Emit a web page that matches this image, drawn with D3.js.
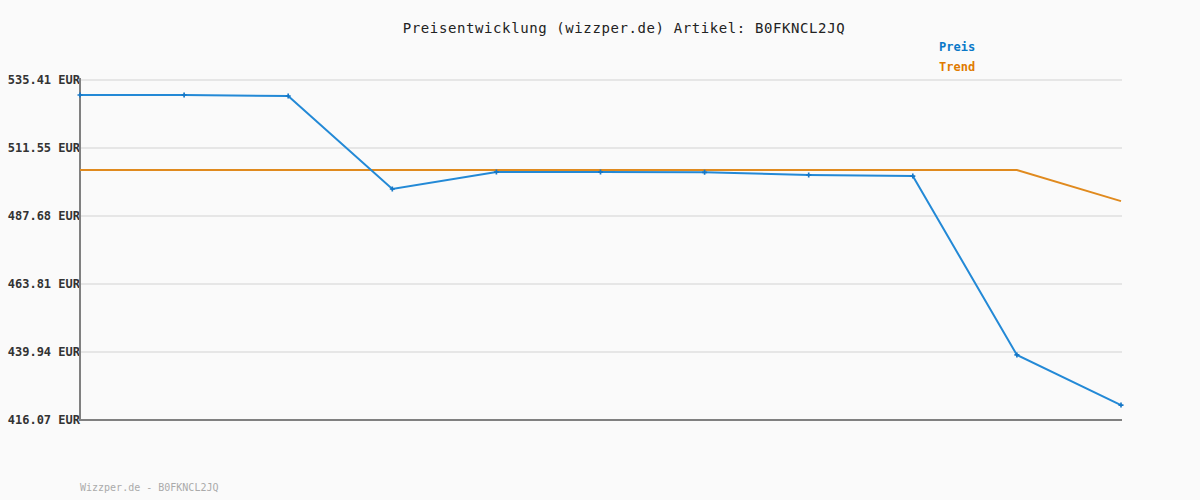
<!DOCTYPE html>
<html>
<head>
<meta charset="utf-8">
<script src="https://cdn.jsdelivr.net/npm/d3@7"></script>
<style>
    body { margin: 0; background: #fafafa; }
    svg { display: block; }
</style>
</head>
<body>
<div id="chart"></div>
<script>
    const width = 1200, height = 500;
    const margin = {top: 80, right: 79, bottom: 80, left: 80};

    const points = [0, 1, 2, 3, 4, 5, 6, 7, 8, 9, 10];
    const preis = [530.15, 530.15, 529.8, 497.15, 503.1, 503.1, 503.0, 502.07, 501.7, 438.9, 421.3];
    const trend = [503.8, 503.8, 503.8, 503.8, 503.8, 503.8, 503.8, 503.8, 503.8, 503.8, 492.9];
    const yTicks = [416.07, 439.94, 463.81, 487.68, 511.55, 535.41];

    const font = '"DejaVu Sans Mono", monospace';

    const svg = d3.select('#chart').append('svg')
        .attr('width', width)
        .attr('height', height);

    svg.append('rect').attr('width', width).attr('height', height).attr('fill', '#fafafa');

    const x = d3.scaleLinear()
        .domain([0, points.length - 1])
        .range([margin.left, width - margin.right]);

    const y = d3.scaleLinear()
        .domain([416.07, 535.41])
        .range([height - margin.bottom, margin.top]);

    // grid
    svg.append('g')
        .selectAll('line')
        .data(yTicks)
        .enter()
        .append('line')
        .attr('x1', margin.left)
        .attr('x2', width - margin.right + 1)
        .attr('y1', d => y(d))
        .attr('y2', d => y(d))
        .attr('stroke', '#e6e6e6')
        .attr('stroke-width', 2);

    // y labels
    svg.append('g')
        .selectAll('text')
        .data(yTicks)
        .enter()
        .append('text')
        .attr('x', margin.left)
        .attr('y', d => y(d))
        .attr('dy', '0.35em')
        .attr('text-anchor', 'end')
        .attr('font-family', font)
        .attr('font-weight', 'bold')
        .attr('font-size', 12)
        .attr('fill', '#333')
        .text(d => d.toFixed(2) + ' EUR');

    // axes
    svg.append('line')
        .attr('x1', margin.left).attr('x2', margin.left)
        .attr('y1', margin.top - 2).attr('y2', height - margin.bottom + 1)
        .attr('stroke', '#808080').attr('stroke-width', 2);
    svg.append('line')
        .attr('x1', margin.left - 1).attr('x2', width - margin.right + 1)
        .attr('y1', height - margin.bottom).attr('y2', height - margin.bottom)
        .attr('stroke', '#808080').attr('stroke-width', 2);

    const line = d3.line()
        .x((d, i) => x(points[i]))
        .y(d => y(d));

    // trend
    svg.append('path')
        .attr('d', line(trend))
        .attr('fill', 'none')
        .attr('stroke', '#e08a1e')
        .attr('stroke-width', 2);

    // price
    svg.append('path')
        .attr('d', line(preis))
        .attr('fill', 'none')
        .attr('stroke', '#2389d6')
        .attr('stroke-width', 2);

    const cross = d3.symbol().type(d3.symbolCross).size(14);
    svg.append('g')
        .selectAll('path')
        .data(preis)
        .enter()
        .append('path')
        .attr('d', cross)
        .attr('transform', (d, i) => `translate(${x(points[i])}, ${y(d)})`)
        .attr('fill', '#1677c6');

    // title
    svg.append('text')
        .attr('x', 624)
        .attr('y', 33)
        .attr('text-anchor', 'middle')
        .attr('font-family', font)
        .attr('font-size', 14)
        .attr('letter-spacing', 0.6)
        .attr('fill', '#222')
        .text('Preisentwicklung (wizzper.de) Artikel: B0FKNCL2JQ');

    // legend
    const legend = [{name: 'Preis', color: '#0a78c8'}, {name: 'Trend', color: '#e07b00'}];
    svg.append('g')
        .selectAll('text')
        .data(legend)
        .enter()
        .append('text')
        .attr('x', 939)
        .attr('y', (d, i) => 51 + i * 20)
        .attr('font-family', font)
        .attr('font-weight', 'bold')
        .attr('font-size', 12)
        .attr('fill', d => d.color)
        .text(d => d.name);

    // footer
    svg.append('text')
        .attr('x', 80)
        .attr('y', 491)
        .attr('font-family', font)
        .attr('font-size', 10)
        .attr('fill', '#aaa')
        .text('Wizzper.de - B0FKNCL2JQ');
</script>
</body>
</html>
